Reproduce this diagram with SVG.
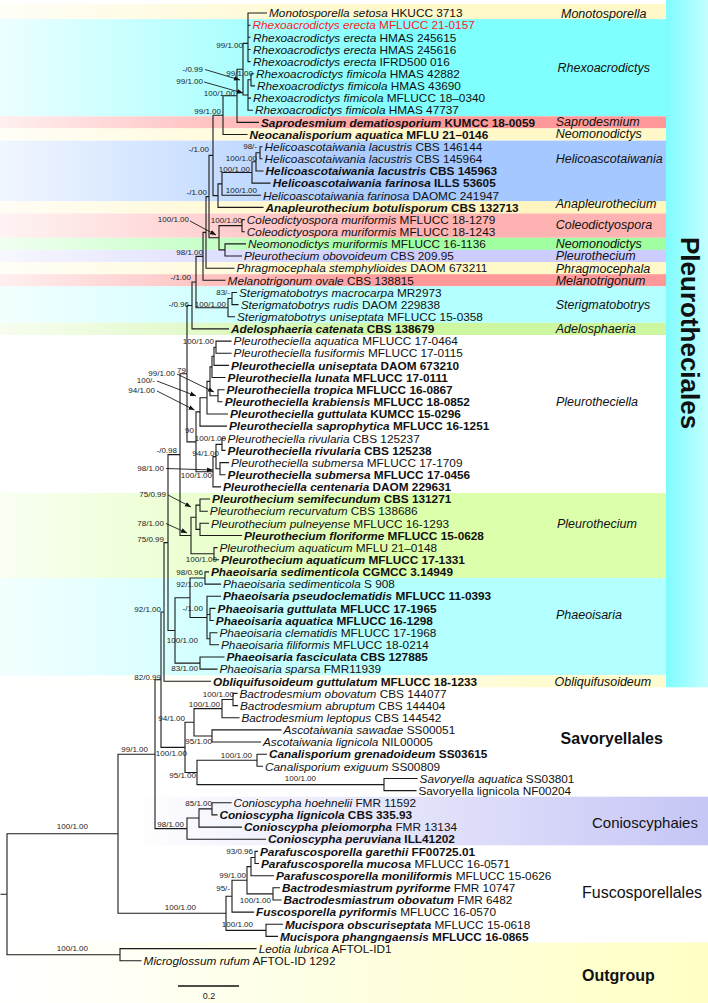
<svg xmlns="http://www.w3.org/2000/svg" width="708" height="1003" viewBox="0 0 708 1003">
<style>
.t{font-family:"Liberation Sans",Arial,sans-serif;font-size:11.8px;fill:#111}
.b{font-weight:bold}
.i{font-style:italic}
.r{fill:#ff1a1a}
.s{font-family:"Liberation Sans",Arial,sans-serif;font-size:8px;fill:#222;text-anchor:end}
.g{font-family:"Liberation Sans",Arial,sans-serif;font-size:12.5px;font-style:italic;fill:#111}
.o{font-family:"Liberation Sans",Arial,sans-serif;font-size:16px;fill:#111}
.ln{fill:none;stroke:#1a1a1a;stroke-width:1.1;stroke-linecap:square}
.ar{fill:none;stroke:#1a1a1a;stroke-width:0.9}
</style>
<defs>
<linearGradient id="fade" gradientUnits="userSpaceOnUse" x1="0" y1="0" x2="666" y2="0"><stop offset="0" stop-color="#fff" stop-opacity="0.85"/><stop offset="0.6" stop-color="#fff" stop-opacity="0"/></linearGradient>
<linearGradient id="obl" gradientUnits="userSpaceOnUse" x1="0" y1="0" x2="666" y2="0"><stop offset="0" stop-color="#fffbd0" stop-opacity="0"/><stop offset="0.55" stop-color="#fffbd0" stop-opacity="0.3"/><stop offset="0.8" stop-color="#fffbd0"/></linearGradient>
<linearGradient id="bar" x1="0" y1="0" x2="1" y2="0"><stop offset="0" stop-color="#7ffcff"/><stop offset="1" stop-color="#c4ffff"/></linearGradient>
<linearGradient id="con" gradientUnits="userSpaceOnUse" x1="130" y1="0" x2="708" y2="0"><stop offset="0" stop-color="#c6c6f6" stop-opacity="0"/><stop offset="1" stop-color="#c6c6f6"/></linearGradient>
<linearGradient id="out" gradientUnits="userSpaceOnUse" x1="0" y1="0" x2="708" y2="0"><stop offset="0" stop-color="#ffffc4" stop-opacity="0"/><stop offset="1" stop-color="#ffffc4"/></linearGradient>
<marker id="ah" viewBox="0 0 10 10" refX="10" refY="5" markerWidth="6" markerHeight="6" orient="auto" markerUnits="userSpaceOnUse"><path d="M0,1L10,5L0,9z" fill="#111"/></marker>
</defs>
<g id="bands">
<rect x="0" y="4" width="666" height="15.1" fill="#fff8c8"/>
<rect x="0" y="19.1" width="666" height="97.2" fill="#80ffff"/>
<rect x="0" y="116.3" width="666" height="12.1" fill="#ff9999"/>
<rect x="0" y="128.4" width="666" height="12.2" fill="#fff8c8"/>
<rect x="0" y="140.6" width="666" height="60.7" fill="#a4c8ff"/>
<rect x="0" y="201.3" width="666" height="12.2" fill="#fff6bf"/>
<rect x="0" y="213.5" width="666" height="24.3" fill="#ffb2b2"/>
<rect x="0" y="237.8" width="666" height="12.1" fill="#a0ffa0"/>
<rect x="0" y="249.9" width="666" height="12.2" fill="#ccccff"/>
<rect x="0" y="262.1" width="666" height="12.1" fill="#fff8c8"/>
<rect x="0" y="274.2" width="666" height="12.2" fill="#ff9999"/>
<rect x="0" y="286.4" width="666" height="36.4" fill="#b4ffff"/>
<rect x="0" y="322.8" width="666" height="12.2" fill="#ccf6a0"/>
<rect x="0" y="492.9" width="666" height="85.1" fill="#dcffac"/>
<rect x="0" y="578" width="666" height="97.2" fill="#b4ffff"/>
<rect x="0" y="0" width="666" height="675.2" fill="url(#fade)"/>
<rect x="0" y="675.2" width="666" height="12.1" fill="url(#obl)"/>
<rect x="666" y="0" width="42" height="687.3" fill="url(#bar)"/>
<rect x="130" y="796.7" width="578" height="48.6" fill="url(#con)"/>
<rect x="0" y="942.5" width="708" height="60.5" fill="url(#out)"/>
</g>
<g id="connectors">
<path class="ln" d="M248,13V61.6M248,13H266.5M248,25.2H250M248,37.3H250M248,49.5H250M248,61.6H250M243,43.4H248
M251,73.8V85.9M251,73.8H253.5M251,85.9H254.5
M248,79.8V110.2M248,79.8H251M248,98.1H250.5M248,110.2H252.5
M243,43.4V95M243,95H248
M237,69.2V122.4M237,69.2H243M237,122.4H258.5
M223,95.8V134.5M223,95.8H237M223,134.5H247
M260,146.7V158.8M260,146.7H262M260,158.8H262
M256,152.7V171M256,152.7H260M256,171H263
M252,161.8V183.1M252,161.8H256M252,183.1H270
M222,172.5V195.3M222,172.5H252M222,195.3H260.5
M218,183.9V207.4M218,183.9H222M218,207.4H263
M213,115.2V195.6M213,115.2H223M213,195.6H218
M242,219.6V231.7M242,219.6H244.3M242,231.7H244.3
M225,243.9V256M225,243.9H245.5M225,256H241.5
M219,225.6V249.9M219,225.6H242M219,249.9H225
M209,155.4V237.8M209,155.4H213M209,237.8H219
M206,196.6V268.2M206,196.6H209M206,268.2H234
M203,232.4V280.3M203,232.4H206M203,280.3H225
M232,292.5V304.6M232,292.5H236.5M232,304.6H238
M228,298.5V316.8M228,298.5H232M228,316.8H234.5
M196,256.4V307.7M196,256.4H203M196,307.7H228
M192,282V328.9M192,282H196M192,328.9H228.5
M216,341.1V353.2M216,341.1H231M216,353.2H231
M214,347.2V365.4M214,347.2H216M214,365.4H228.5
M212,356.3V377.5M212,356.3H214M212,377.5H225
M218,389.7V401.8M218,389.7H224M218,401.8H222
M210,366.9V395.8M210,366.9H212M210,395.8H218
M207,381.4V414M207,381.4H210M207,414H227.5
M200,397.7V426.1M200,397.7H207M200,426.1H226.5
M222,438.3V450.4M222,438.3H225M222,450.4H225
M220,462.6V474.7M220,462.6H228.5M220,474.7H225
M216,444.4V468.7M216,444.4H222M216,468.7H220
M213,456.6V486.9M213,456.6H216M213,486.9H220.5
M196,411.9V471.8M196,411.9H200M196,471.8H213
M187,305.5V441.9M187,305.5H192M187,441.9H196
M200,499V511.2M200,499H209.5M200,511.2H207.3
M200,523.3V535.5M200,523.3H208.5M200,535.5H241.5
M196,505.1V529.4M196,505.1H200M196,529.4H200
M214,547.6V559.8M214,547.6H217M214,559.8H218.5
M191,517.3V553.7M191,517.3H196M191,553.7H214
M180,373.7V535.5M180,373.7H187M180,535.5H191
M205,571.9V584.1M205,571.9H208.5M205,584.1H220.5
M210,608.4V620.5M210,608.4H215M210,620.5H213.3
M210,632.7V644.8M210,632.7H217M210,644.8H218.5
M207,596.2V638.8M207,596.2H220.5M207,614.5H210M207,638.8H210
M190,578V617.5M190,578H205M190,617.5H207
M200,657V669.1M200,657H224M200,669.1H217
M175,597.8V663.1M175,597.8H190M175,663.1H200
M168,454.6V630.5M168,454.6H180M168,630.5H175
M164,542.6V681.3M164,542.6H168M164,681.3H210.5
M161,612V747.4M161,612H164M161,747.4H185
M233,693.4V705.6M233,693.4H237M233,705.6H237.5
M222,699.5V717.7M222,699.5H233M222,717.7H239
M212,729.9V742M212,729.9H281M212,742H260.5
M194,708.6V736M194,708.6H222M194,736H212
M257,754.2V766.3M257,754.2H266.5M257,766.3H262.5
M384,778.5V790.6M384,778.5H417M384,790.6H416
M197,760.3V784.6M197,760.3H257M197,784.6H384
M185,722.3V772.5M185,722.3H194M185,772.5H197
M212,802.8V814.9M212,802.8H231M212,814.9H217
M199,808.9V827.1M199,808.9H212M199,827.1H241.5
M187,818V839.2M187,818H199M187,839.2H265.5
M155,679.7V828.6M155,679.7H161M155,828.6H187
M255,851.4V863.5M255,851.4H257.5M255,863.5H258.5
M251,857.5V875.7M251,857.5H255M251,875.7H273.5
M273,887.8V900M273,887.8H279.5M273,900H281
M247,866.6V893.9M247,866.6H251M247,893.9H273
M232,880.3V912.1M232,880.3H247M232,912.1H253.5
M266,924.3V936.4M266,924.3H282.5M266,936.4H277.5
M226,896.2V930.4M226,896.2H232M226,930.4H266
M118,754.2V913.3M118,754.2H155M118,913.3H226
M120,948.6V960.7M120,948.6H256M120,960.7H141
M7,833.8V954.7M7,833.8H118M7,954.7H120M1,894.2H7"/>
<path class="ar" marker-end="url(#ah)" d="M205,69.5L240,80"/>
<path class="ar" marker-end="url(#ah)" d="M204,82L243,93"/>
<path class="ar" marker-end="url(#ah)" d="M190,221L216,235"/>
<path class="ar" marker-end="url(#ah)" d="M177,374L214,392"/>
<path class="ar" marker-end="url(#ah)" d="M157,381L196,396"/>
<path class="ar" marker-end="url(#ah)" d="M157,391L194.5,410"/>
<path class="ar" marker-end="url(#ah)" d="M166,468.5L213,470"/>
<path class="ar" marker-end="url(#ah)" d="M168,495L191,507"/>
<path class="ar" marker-end="url(#ah)" d="M166,523.5L187,533"/>
<path d="M178,986H239" stroke="#111" stroke-width="1.6"/>
</g>
<g id="support">
<text class="s" x="243" y="47.8">99/1.00</text>
<text class="s" x="203" y="71.8">-/0.99</text>
<text class="s" x="253" y="76.3">99/1.00</text>
<text class="s" x="203" y="83.8">99/1.00</text>
<text class="s" x="235" y="95.8">100/1.00</text>
<text class="s" x="221" y="113.8">99/1.00</text>
<text class="s" x="209" y="151.8">-/1.00</text>
<text class="s" x="257" y="148.8">98/-</text>
<text class="s" x="257" y="160.8">100/1.00</text>
<text class="s" x="250" y="171.8">100/1.00</text>
<text class="s" x="207" y="195.3">-/1.00</text>
<text class="s" x="257" y="192.8">100/1.00</text>
<text class="s" x="189" y="222.4">100/1.00</text>
<text class="s" x="242" y="222.8">100/1.00</text>
<text class="s" x="203" y="254.8">98/1.00</text>
<text class="s" x="191" y="280.3">-/1.00</text>
<text class="s" x="230" y="295.3">83/-</text>
<text class="s" x="226" y="307.4">100/1.00</text>
<text class="s" x="189" y="306.8">-/0.96</text>
<text class="s" x="214" y="343.8">100/1.00</text>
<text class="s" x="186" y="372.8">79</text>
<text class="s" x="175" y="375.8">99/1.00</text>
<text class="s" x="155" y="382.8">100/-</text>
<text class="s" x="155" y="392.8">94/1.00</text>
<text class="s" x="194" y="432.8">90</text>
<text class="s" x="226" y="440.8">100/1.00</text>
<text class="s" x="177" y="452.8">-/0.98</text>
<text class="s" x="219" y="455.8">94/1.00</text>
<text class="s" x="164" y="471.3">98/1.00</text>
<text class="s" x="212" y="478.2">100/1.00</text>
<text class="s" x="166" y="496.8">75/0.99</text>
<text class="s" x="164" y="525.8">78/1.00</text>
<text class="s" x="164" y="542.4">75/0.99</text>
<text class="s" x="217" y="561.8">100/1.00</text>
<text class="s" x="203" y="574.7">98/0.96</text>
<text class="s" x="203" y="586.8">92/1.00</text>
<text class="s" x="203" y="610.8">-/1.00</text>
<text class="s" x="161" y="611.8">92/1.00</text>
<text class="s" x="198" y="643.4">100/1.00</text>
<text class="s" x="198" y="670.5">83/1.00</text>
<text class="s" x="161" y="679.8">82/0.99</text>
<text class="s" x="234" y="696.8">100/1.00</text>
<text class="s" x="220" y="706.6">100/1.00</text>
<text class="s" x="185" y="720.8">94/1.00</text>
<text class="s" x="212" y="744.4">95/1.00</text>
<text class="s" x="148" y="751.8">99/1.00</text>
<text class="s" x="187" y="755.8">100/1.00</text>
<text class="s" x="252" y="757.8">100/1.00</text>
<text class="s" x="196" y="777.8">95/1.00</text>
<text class="s" x="316" y="780.8">100/1.00</text>
<text class="s" x="212" y="805.6">85/1.00</text>
<text class="s" x="184" y="826.8">98/1.00</text>
<text class="s" x="253" y="853.8">93/0.96</text>
<text class="s" x="246" y="877.8">99/1.00</text>
<text class="s" x="230" y="890.6">95/-</text>
<text class="s" x="271" y="902.8">100/1.00</text>
<text class="s" x="196" y="910.4">100/1.00</text>
<text class="s" x="253" y="926.8">100/1.00</text>
<text class="s" x="88" y="828.8">100/1.00</text>
<text class="s" x="88" y="950.8">100/1.00</text>
<text class="s" x="209" y="999" style="text-anchor:middle;font-size:9px">0.2</text>
</g>
<g id="taxa">
<text class="t" x="269" y="17.2"><tspan class="i">Monotosporella setosa</tspan> HKUCC 3713</text>
<text class="t r" x="252.5" y="29.4"><tspan class="i">Rhexoacrodictys erecta</tspan> MFLUCC 21-0157</text>
<text class="t" x="253" y="41.5"><tspan class="i">Rhexoacrodictys erecta</tspan> HMAS 245615</text>
<text class="t" x="253" y="53.7"><tspan class="i">Rhexoacrodictys erecta</tspan> HMAS 245616</text>
<text class="t" x="253" y="65.8"><tspan class="i">Rhexoacrodictys erecta</tspan> IFRD500 016</text>
<text class="t" x="256" y="78"><tspan class="i">Rhexoacrodictys fimicola</tspan> HMAS 42882</text>
<text class="t" x="257" y="90.1"><tspan class="i">Rhexoacrodictys fimicola</tspan> HMAS 43690</text>
<text class="t" x="253" y="102.3"><tspan class="i">Rhexoacrodictys fimicola</tspan> MFLUCC 18–0340</text>
<text class="t" x="255" y="114.4"><tspan class="i">Rhexoacrodictys fimicola</tspan> HMAS 47737</text>
<text class="t b" x="261" y="126.6"><tspan class="i">Saprodesmium dematiosporium</tspan> KUMCC 18-0059</text>
<text class="t b" x="249.6" y="138.7"><tspan class="i">Neocanalisporium aquatica</tspan> MFLU 21–0146</text>
<text class="t" x="264.6" y="150.9"><tspan class="i">Helicoascotaiwania lacustris</tspan> CBS 146144</text>
<text class="t" x="264.6" y="163"><tspan class="i">Helicoascotaiwania lacustris</tspan> CBS 145964</text>
<text class="t b" x="265.6" y="175.2"><tspan class="i">Helicoascotaiwania lacustris</tspan> CBS 145963</text>
<text class="t b" x="272.8" y="187.3"><tspan class="i">Helicoascotaiwania farinosa</tspan> ILLS 53605</text>
<text class="t" x="263" y="199.5"><tspan class="i">Helicoascotaiwania farinosa</tspan> DAOMC 241947</text>
<text class="t b" x="265.6" y="211.6"><tspan class="i">Anapleurothecium botulisporum</tspan> CBS 132713</text>
<text class="t" x="246.8" y="223.8"><tspan class="i">Coleodictyospora muriformis</tspan> MFLUCC 18-1279</text>
<text class="t" x="246.8" y="235.9"><tspan class="i">Coleodictyospora muriformis</tspan> MFLUCC 18-1243</text>
<text class="t" x="248" y="248.1"><tspan class="i">Neomonodictys muriformis</tspan> MFLUCC 16-1136</text>
<text class="t" x="244" y="260.2"><tspan class="i">Pleurothecium obovoideum</tspan> CBS 209.95</text>
<text class="t" x="236.5" y="272.4"><tspan class="i">Phragmocephala stemphylioides</tspan> DAOM 673211</text>
<text class="t" x="227.6" y="284.5"><tspan class="i">Melanotrigonum ovale</tspan> CBS 138815</text>
<text class="t" x="239" y="296.7"><tspan class="i">Sterigmatobotrys macrocarpa</tspan> MR2973</text>
<text class="t" x="240.7" y="308.8"><tspan class="i">Sterigmatobotrys rudis</tspan> DAOM 229838</text>
<text class="t" x="237" y="321"><tspan class="i">Sterigmatobotrys uniseptata</tspan> MFLUCC 15-0358</text>
<text class="t b" x="231" y="333.1"><tspan class="i">Adelosphaeria catenata</tspan> CBS 138679</text>
<text class="t" x="233.6" y="345.3"><tspan class="i">Pleurotheciella aquatica</tspan> MFLUCC 17-0464</text>
<text class="t" x="233.6" y="357.4"><tspan class="i">Pleurotheciella fusiformis</tspan> MFLUCC 17-0115</text>
<text class="t b" x="231" y="369.6"><tspan class="i">Pleurotheciella uniseptata</tspan> DAOM 673210</text>
<text class="t b" x="227.6" y="381.7"><tspan class="i">Pleurotheciella lunata</tspan> MFLUCC 17-0111</text>
<text class="t b" x="226.5" y="393.9"><tspan class="i">Pleurotheciella tropica</tspan> MFLUCC 16-0867</text>
<text class="t b" x="224.7" y="406"><tspan class="i">Pleurotheciella krabiensis</tspan> MFLUCC 18-0852</text>
<text class="t b" x="230" y="418.2"><tspan class="i">Pleurotheciella guttulata</tspan> KUMCC 15-0296</text>
<text class="t b" x="229" y="430.3"><tspan class="i">Pleurotheciella saprophytica</tspan> MFLUCC 16-1251</text>
<text class="t" x="227.6" y="442.5"><tspan class="i">Pleurotheciella rivularia</tspan> CBS 125237</text>
<text class="t b" x="227.6" y="454.6"><tspan class="i">Pleurotheciella rivularia</tspan> CBS 125238</text>
<text class="t" x="231" y="466.8"><tspan class="i">Pleurotheciella submersa</tspan> MFLUCC 17-1709</text>
<text class="t b" x="227.6" y="478.9"><tspan class="i">Pleurotheciella submersa</tspan> MFLUCC 17-0456</text>
<text class="t b" x="223" y="491.1"><tspan class="i">Pleurotheciella centenaria</tspan> DAOM 229631</text>
<text class="t b" x="212" y="503.2"><tspan class="i">Pleurothecium semifecundum</tspan> CBS 131271</text>
<text class="t" x="209.8" y="515.4"><tspan class="i">Pleurothecium recurvatum</tspan> CBS 138686</text>
<text class="t" x="211" y="527.5"><tspan class="i">Pleurothecium pulneyense</tspan> MFLUCC 16-1293</text>
<text class="t b" x="244" y="539.7"><tspan class="i">Pleurothecium floriforme</tspan> MFLUCC 15-0628</text>
<text class="t" x="219.4" y="551.8"><tspan class="i">Pleurothecium aquaticum</tspan> MFLU 21–0148</text>
<text class="t b" x="221" y="564"><tspan class="i">Pleurothecium aquaticum</tspan> MFLUCC 17-1331</text>
<text class="t b" x="211" y="576.1"><tspan class="i">Phaeoisaria sedimenticola</tspan> CGMCC 3.14949</text>
<text class="t" x="223" y="588.3"><tspan class="i">Phaeoisaria sedimenticola</tspan> S 908</text>
<text class="t b" x="223" y="600.4"><tspan class="i">Phaeoisaria pseudoclematidis</tspan> MFLUCC 11-0393</text>
<text class="t b" x="217.6" y="612.6"><tspan class="i">Phaeoisaria guttulata</tspan> MFLUCC 17-1965</text>
<text class="t b" x="215.8" y="624.7"><tspan class="i">Phaeoisaria aquatica</tspan> MFLUCC 16-1298</text>
<text class="t" x="219.4" y="636.9"><tspan class="i">Phaeoisaria clematidis</tspan> MFLUCC 17-1968</text>
<text class="t" x="221" y="649"><tspan class="i">Phaeoisaria filiformis</tspan> MFLUCC 18-0214</text>
<text class="t b" x="226.5" y="661.2"><tspan class="i">Phaeoisaria fasciculata</tspan> CBS 127885</text>
<text class="t" x="219.4" y="673.3"><tspan class="i">Phaeoisaria sparsa</tspan> FMR11939</text>
<text class="t b" x="213" y="685.5"><tspan class="i">Obliquifusoideum guttulatum</tspan> MFLUCC 18-1233</text>
<text class="t" x="239.4" y="697.6"><tspan class="i">Bactrodesmium obovatum</tspan> CBS 144077</text>
<text class="t" x="240" y="709.8"><tspan class="i">Bactrodesmium abruptum</tspan> CBS 144404</text>
<text class="t" x="241.4" y="721.9"><tspan class="i">Bactrodesmium leptopus</tspan> CBS 144542</text>
<text class="t" x="283.4" y="734.1"><tspan class="i">Ascotaiwania sawadae</tspan> SS00051</text>
<text class="t" x="263" y="746.2"><tspan class="i">Ascotaiwania lignicola</tspan> NIL00005</text>
<text class="t b" x="269" y="758.4"><tspan class="i">Canalisporium grenadoideum</tspan> SS03615</text>
<text class="t" x="265" y="770.5"><tspan class="i">Canalisporium exiguum</tspan> SS00809</text>
<text class="t" x="419.6" y="782.7"><tspan class="i">Savoryella aquatica</tspan> SS03801</text>
<text class="t" x="418.4" y="794.8">Savoryella lignicola NF00204</text>
<text class="t" x="233.4" y="807"><tspan class="i">Conioscypha hoehnelii</tspan> FMR 11592</text>
<text class="t b" x="219.4" y="819.1"><tspan class="i">Conioscypha lignicola</tspan> CBS 335.93</text>
<text class="t" x="244" y="831.3"><tspan class="i b">Conioscypha pleiomorpha</tspan> FMR 13134</text>
<text class="t b" x="268" y="843.4"><tspan class="i">Conioscypha peruviana</tspan> ILL41202</text>
<text class="t b" x="260" y="855.6"><tspan class="i">Parafuscosporella garethii</tspan> FF00725.01</text>
<text class="t" x="261" y="867.7"><tspan class="i b">Parafuscosporella mucosa</tspan> MFLUCC 16-0571</text>
<text class="t" x="276" y="879.9"><tspan class="i b">Parafuscosporella moniliformis</tspan> MFLUCC 15-0626</text>
<text class="t" x="282" y="892"><tspan class="i b">Bactrodesmiastrum pyriforme</tspan> FMR 10747</text>
<text class="t" x="283.5" y="904.2"><tspan class="i b">Bactrodesmiastrum obovatum</tspan> FMR 6482</text>
<text class="t" x="256" y="916.3"><tspan class="i b">Fuscosporella pyriformis</tspan> MFLUCC 16-0570</text>
<text class="t" x="285" y="928.5"><tspan class="i b">Mucispora obscuriseptata</tspan> MFLUCC 15-0618</text>
<text class="t b" x="280" y="940.6"><tspan class="i">Mucispora phangngaensis</tspan> MFLUCC 16-0865</text>
<text class="t" x="258.7" y="952.8"><tspan class="i">Leotia lubrica</tspan> AFTOL-ID1</text>
<text class="t" x="143.6" y="964.9"><tspan class="i">Microglossum rufum</tspan> AFTOL-ID 1292</text>
</g>
<g id="clade-labels">
<text class="g" x="561" y="17.5">Monotosporella</text>
<text class="g" x="557.5" y="72">Rhexoacrodictys</text>
<text class="g" x="555.7" y="126">Saprodesmium</text>
<text class="g" x="555.7" y="138">Neomonodictys</text>
<text class="g" x="555.7" y="163">Helicoascotaiwania</text>
<text class="g" x="555.7" y="207.5">Anapleurothecium</text>
<text class="g" x="555.7" y="229">Coleodictyospora</text>
<text class="g" x="555.7" y="248">Neomonodictys</text>
<text class="g" x="555.7" y="260">Pleurothecium</text>
<text class="g" x="555.7" y="272.5">Phragmocephala</text>
<text class="g" x="555.7" y="284.5">Melanotrigonum</text>
<text class="g" x="555.7" y="309">Sterigmatobotrys</text>
<text class="g" x="555.7" y="333">Adelosphaeria</text>
<text class="g" x="556" y="406">Pleurotheciella</text>
<text class="g" x="557" y="528">Pleurothecium</text>
<text class="g" x="556" y="618.5">Phaeoisaria</text>
<text class="g" x="554.6" y="685.5">Obliquifusoideum</text>
<text class="o" x="681" y="237" transform="rotate(90 681 237)" style="font-size:26px;font-weight:bold">Pleurotheciales</text>
<text class="o b" x="560.6" y="744">Savoryellales</text>
<text class="o" x="592" y="828" style="font-size:15px">Conioscyphaies</text>
<text class="o" x="582" y="898">Fuscosporellales</text>
<text class="o b" x="582" y="981">Outgroup</text>
</g>
</svg>
